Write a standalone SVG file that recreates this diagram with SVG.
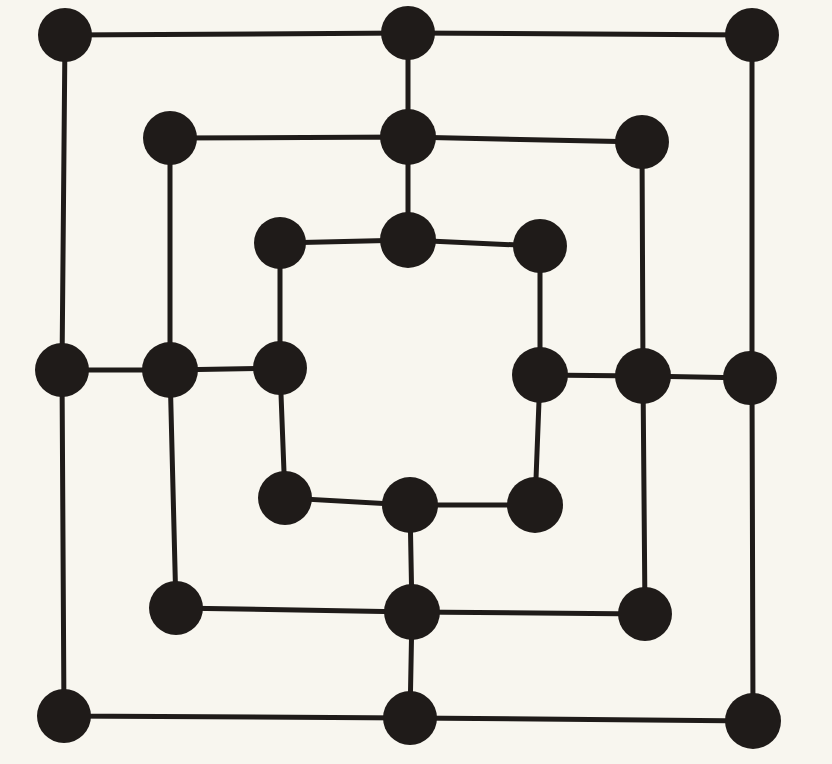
<svg xmlns="http://www.w3.org/2000/svg" width="832" height="764" viewBox="0 0 832 764">
<style>
.l{stroke:#1f1b19;stroke-width:5;fill:none;stroke-linecap:round}
.n{fill:#1f1b19}
</style>
<rect width="832" height="764" fill="#f8f6ef"/>
<g id="connectors">
<path class="l" d="M65,35 L408,33 L752,35 L752,378 L753,721 L410,718 L64,716 L62,370 Z"/>
<path class="l" d="M170,138 L408,137 L642,142 L643,376 L645,614 L412,612 L176,608 L170,370 Z"/>
<path class="l" d="M280,243 L408,240 L540,246 L540,375 L535,505 L410,505 L285,498 L280,368 Z"/>
<path class="l" d="M408,33 L408,137 L408,240"/>
<path class="l" d="M410,505 L412,612 L410,718"/>
<path class="l" d="M62,370 L170,370 L280,368"/>
<path class="l" d="M540,375 L643,376 L750,378"/>
</g>
<g id="n1"><circle class="n" cx="65" cy="35" r="27"/></g>
<g id="n2"><circle class="n" cx="408" cy="33" r="27"/></g>
<g id="n3"><circle class="n" cx="752" cy="35" r="27"/></g>
<g id="n4"><circle class="n" cx="62" cy="370" r="27"/></g>
<g id="n5"><circle class="n" cx="750" cy="378" r="27"/></g>
<g id="n6"><circle class="n" cx="64" cy="716" r="27"/></g>
<g id="n7"><circle class="n" cx="410" cy="718" r="27"/></g>
<g id="n8"><circle class="n" cx="753" cy="721" r="28"/></g>
<g id="n9"><circle class="n" cx="170" cy="138" r="27"/></g>
<g id="n10"><circle class="n" cx="408" cy="137" r="28"/></g>
<g id="n11"><circle class="n" cx="642" cy="142" r="27"/></g>
<g id="n12"><circle class="n" cx="170" cy="370" r="28"/></g>
<g id="n13"><circle class="n" cx="643" cy="376" r="28"/></g>
<g id="n14"><circle class="n" cx="176" cy="608" r="27"/></g>
<g id="n15"><circle class="n" cx="412" cy="612" r="28"/></g>
<g id="n16"><circle class="n" cx="645" cy="614" r="27"/></g>
<g id="n17"><circle class="n" cx="280" cy="243" r="26"/></g>
<g id="n18"><circle class="n" cx="408" cy="240" r="28"/></g>
<g id="n19"><circle class="n" cx="540" cy="246" r="27"/></g>
<g id="n20"><circle class="n" cx="280" cy="368" r="27"/></g>
<g id="n21"><circle class="n" cx="540" cy="375" r="28"/></g>
<g id="n22"><circle class="n" cx="285" cy="498" r="27"/></g>
<g id="n23"><circle class="n" cx="410" cy="505" r="28"/></g>
<g id="n24"><circle class="n" cx="535" cy="505" r="28"/></g>
</svg>
